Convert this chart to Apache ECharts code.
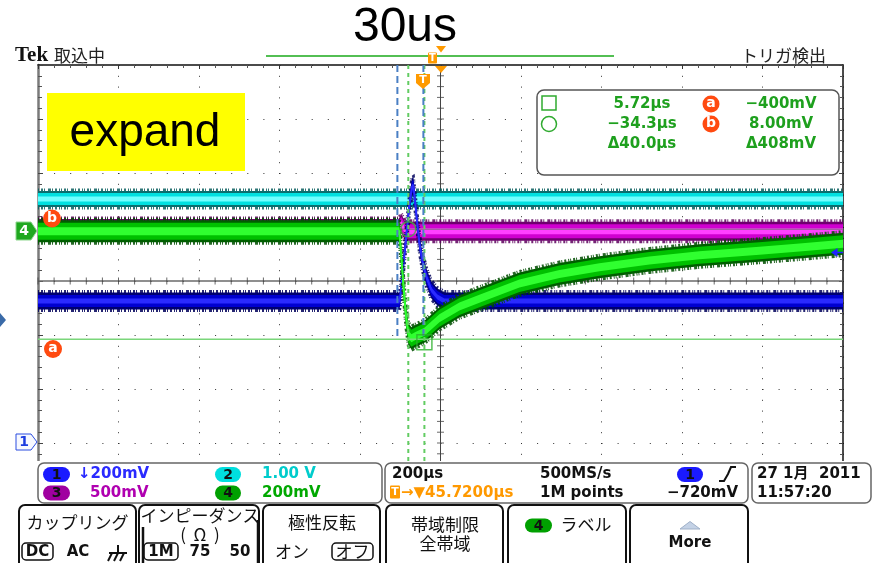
<!DOCTYPE html>
<html><head><meta charset="utf-8">
<script src="https://cdn.jsdelivr.net/npm/echarts@6/dist/echarts.min.js"></script>
<style>html,body{margin:0;padding:0;background:#fff;}#c{width:876px;height:563px;}</style>
</head><body><div id="c"></div>
<script>
// ---------------- data ----------------
const timePerDivUs = 200;            // 200µs/div
const triggerToCenterUs = 45.72;     // T→▼45.7200µs
const ch1ScaleV = 0.2, ch2ScaleV = 1.0, ch3ScaleV = 0.5, ch4ScaleV = 0.2;
const ch1PosDiv = -2.98, ch2PosDiv = 0.92, ch3PosDiv = 0.92, ch4PosDiv = 0.92;

// Ch4 (green) time relative to trigger (µs) and level (mV)
const ch4TimeUs = [-954.28, -56.4, -52.7, -46.5, -40.3, -34.0, -26.6, -16.6, 5.7, 43.0, 92.7, 142.4, 241.8, 341.2, 440.6, 564.8, 689.0, 838.1, 937.5, 1045.72];
const ch4mV     = [0, 0, -70, -199, -310, -381, -396, -388, -372, -322, -278, -250, -193, -158, -133, -108, -89, -72, -60, -46];
// Ch1 (blue)
const ch1TimeUs = [-954.28, -56.4, -53.9, -46.5, -39.0, -31.6, -25.3, -21.6, -16.6, -11.7, -6.7, 0.7, 10.7, 23.1, 38.0, 55.4, 1045.72];
const ch1mV     = [522, 522, 541, 656, 767, 878, 944, 948, 878, 804, 737, 670, 611, 563, 537, 522, 522];
// Ch2 (cyan)
const ch2TimeUs = [-954.28, 1045.72];
const ch2V      = [0.60, 0.60];
// Ch3 (magenta)
const ch3TimeUs = [-954.28, -58.9, -51.4, -41.5, 1045.72];
const ch3V      = [0.025, 0.025, 0.067, 0.0, 0.0];

// cursors
const cursorSquareUs = 5.72, cursorCircleUs = -34.3;
const cursorA_mV = -400, cursorB_mV = 8.0;
const zoomMarkUs = [-61.4, 3.2];

// ---------------- helpers ----------------
const xOf = t => t - triggerToCenterUs;
function toPts(tArr, vArr, posDiv, scale) { return tArr.map((t, i) => [xOf(t), posDiv + vArr[i] / scale]); }
const PX = 54; // px per division (layout)
const NOISE_DASH = [1, 2, 2, 1, 1, 3, 3, 1, 1, 2, 2, 2, 1, 1];
function traceSeries(p, layers, z, lineColor, edgeColor) {
  return {type:'custom', z, silent:true, clip:true, data:p,
    renderItem: (params, api) => {
      if (params.dataIndex !== 0) return null;
      const outer = layers[0][0];
      const children = [];
      [-1, 1].forEach(sgn => {
        const pts = p.map(q => { const c = api.coord(q); return [c[0], c[1] + sgn * (outer / 2 + 1)]; });
        children.push({type:'polyline', shape:{points:pts}, style:{stroke:edgeColor, lineWidth:3, fill:null, lineDash:NOISE_DASH, opacity:0.85}});
      });
      layers.forEach(l => {
        const th = l[0] / PX;
        const up = p.map(q => api.coord([q[0], q[1] + th / 2]));
        const lo = p.map(q => api.coord([q[0], q[1] - th / 2])).reverse();
        children.push({type:'polygon', shape:{points:up.concat(lo)}, style:{fill:l[1]}});
      });
      children.push({type:'polyline', shape:{points:p.map(q => api.coord(q))}, style:{stroke:lineColor, lineWidth:2, fill:null}});
      return {type:'group', children};
    }};
}

const ch1Pts = toPts(ch1TimeUs, ch1mV.map(v => v / 1000), ch1PosDiv, ch1ScaleV);
const ch2Pts = toPts(ch2TimeUs, ch2V, ch2PosDiv, ch2ScaleV);
const ch3Pts = toPts(ch3TimeUs, ch3V, ch3PosDiv, ch3ScaleV);
const ch4Pts = toPts(ch4TimeUs, ch4mV.map(v => v / 1000), ch4PosDiv, ch4ScaleV);

const yA = ch4PosDiv + cursorA_mV / 1000 / ch4ScaleV;
const yB = ch4PosDiv + cursorB_mV / 1000 / ch4ScaleV;

// graticule center ticks
const hTicks = [], vTicks = [];
for (let x = -1000; x <= 1000; x += timePerDivUs / 5) hTicks.push([x, 0]);
for (let k = -20; k <= 20; k++) vTicks.push([0, k / 5]);

let series = [];
series.push({type:'line', data:[[-1000, 0], [1000, 0]], symbol:'none', lineStyle:{color:'#6a6a6a', width:1.5}, z:3, silent:true});
series.push({type:'line', data:[[0, -4], [0, 4]], symbol:'none', lineStyle:{color:'#444', width:1}, z:3, silent:true});
series.push({type:'scatter', data:hTicks, symbol:'rect', symbolSize:[1, 7], itemStyle:{color:'#444'}, z:3, silent:true});
series.push({type:'scatter', data:vTicks, symbol:'rect', symbolSize:[7, 1], itemStyle:{color:'#444'}, z:3, silent:true});

series.push(traceSeries(ch2Pts, [[16, '#0b6e6e'], [12, '#00e0e0'], [5, '#70ffff']], 10, '#70ffff', '#0a5f5f'));
series.push(traceSeries(ch3Pts, [[19, '#6e006e'], [14, '#d000d0'], [6, '#ff40ff']], 20, '#ff40ff', '#5e005e'));
series.push({type:'line', data:[[-1000, yB], [1000, yB]], symbol:'none', lineStyle:{color:'#7a6a7a', width:1}, z:26, silent:true});
series.push(traceSeries(ch1Pts, [[17, '#000070'], [12, '#0000d0'], [5, '#2a2aff']], 30, '#2a2aff', '#00005a'));
series.push(traceSeries(ch4Pts, [[22, '#005e00'], [17, '#00c000'], [8, '#30ff30']], 40, '#30ff30', '#004c00'));

// cursors
series.push({type:'line', data:[[-1000, yA], [1000, yA]], symbol:'none', lineStyle:{color:'#7ad67a', width:1.5}, z:60, silent:true});
[cursorSquareUs, cursorCircleUs].forEach(t => series.push({type:'line', data:[[xOf(t), 4], [xOf(t), -4]], symbol:'none', lineStyle:{color:'#62cc62', width:2, type:[4, 4]}, z:61, silent:true}));
zoomMarkUs.forEach(t => series.push({type:'line', data:[[xOf(t), 4], [xOf(t), yA]], symbol:'none', lineStyle:{color:'#4a7fc4', width:2, type:[7, 4]}, z:62, silent:true}));
series.push({type:'scatter', data:[[xOf(cursorCircleUs), yB]], symbol:'circle', symbolSize:15, itemStyle:{color:'rgba(0,0,0,0)', borderColor:'#3cb83c', borderWidth:1.5}, z:63, silent:true});
series.push({type:'scatter', data:[[xOf(cursorSquareUs), yA]], symbol:'rect', symbolSize:15, symbolOffset:[0, 3], itemStyle:{color:'rgba(0,0,0,0)', borderColor:'#2cb02c', borderWidth:1.5}, z:63, silent:true});

// ---------------- static screen furniture ----------------
const UI = '"DejaVu Sans","Noto Sans CJK JP",sans-serif';
const CJK = '"Noto Sans CJK JP","DejaVu Sans",sans-serif';
const G = [];
function txt(text, x, y, font, fill, align, z) { G.push({type:'text', z:z || 110, style:{text, x, y, font, fill, align:align || 'left', verticalAlign:'middle'}}); }
function rect(x, y, w, h, r, fill, stroke, lw, z) { G.push({type:'rect', z:z || 105, shape:{x, y, width:w, height:h, r}, style:{fill:fill || 'none', stroke:stroke || 'none', lineWidth:lw || 1}}); }
function poly(points, fill, stroke, z) { G.push({type:'polygon', z:z || 105, shape:{points}, style:{fill, stroke:stroke || 'none', lineWidth:1}}); }
function line(x1, y1, x2, y2, stroke, lw, z) { G.push({type:'line', z:z || 105, shape:{x1, y1, x2, y2}, style:{stroke, lineWidth:lw || 1}}); }
function circ(cx, cy, r, fill, stroke, z) { G.push({type:'circle', z:z || 105, shape:{cx, cy, r}, style:{fill, stroke:stroke || 'none', lineWidth:1.5}}); }
function pill(x, y, w, h, fill, label) { rect(x, y, w, h, h / 2, fill, null, 1, 106); txt(label, x + w / 2, y + h / 2 + 0.5, 'bold 14px ' + UI, '#111', 'center', 107); }

// header
txt('30us', 405, 28, '48px "Liberation Sans",Arial,sans-serif', '#000', 'center', 90);
txt('Tek', 15, 56, 'bold 21px "Liberation Serif",serif', '#111', 'left', 90);
txt('取込中', 54, 56, '17px ' + CJK, '#222', 'left', 90);
txt('トリガ検出', 826, 56, '17px ' + CJK, '#222', 'right', 90);
line(266, 56, 614, 56, '#1aaa1a', 1.5, 90);
rect(428, 52.5, 9, 11, 1, '#ff9a00', null, 1, 91);
txt('T', 432.5, 58, 'bold 10px ' + UI, '#fff', 'center', 92);
poly([[436, 46], [446, 46], [441, 52.5]], '#ff9a00', null, 91);
poly([[435, 66], [447, 66], [441, 73]], '#ff9a00', null, 91);
poly([[416, 74], [430, 74], [430, 83], [423, 89], [416, 83]], '#ff9a00', null, 91);
txt('T', 423, 80, 'bold 11px ' + UI, '#fff', 'center', 92);

// expand label
rect(47, 93, 198, 78, 0, '#ffff00', null, 1, 80);
txt('expand', 145, 133, '46px "Liberation Sans",Arial,sans-serif', '#000', 'center', 81);

// measurement readout
rect(537, 90, 302, 85, 7, '#fff', '#555', 1.5, 80);
rect(542, 96, 14, 14, 0, 'none', '#2faa2f', 1.5, 81);
circ(549, 124, 7.5, 'none', '#2faa2f', 81);
const MF = 'bold 15px ' + UI, MC = '#1ea01e';
txt('5.72µs', 642, 104, MF, MC, 'center', 82);
txt('−34.3µs', 642, 124, MF, MC, 'center', 82);
txt('Δ40.0µs', 642, 144, MF, MC, 'center', 82);
txt('−400mV', 781, 104, MF, MC, 'center', 82);
txt('8.00mV', 781, 124, MF, MC, 'center', 82);
txt('Δ408mV', 781, 144, MF, MC, 'center', 82);
circ(711, 104, 8.5, '#ff4a10', null, 81); txt('a', 711, 103, 'bold 14px ' + UI, '#fff', 'center', 82);
circ(711, 124, 8.5, '#ff4a10', null, 81); txt('b', 711, 123, 'bold 14px ' + UI, '#fff', 'center', 82);

// channel / cursor markers on the graticule
poly([[16, 222], [31, 222], [37, 231], [31, 240], [16, 240]], '#1fa81f', '#8fd88f', 85);
txt('4', 24, 231.5, 'bold 14px ' + UI, '#fff', 'center', 86);
circ(52, 218.5, 9, '#ff4a10', null, 85); txt('b', 52, 218, 'bold 14px ' + UI, '#fff', 'center', 86);
circ(53, 349, 9, '#ff4a10', null, 85); txt('a', 53, 348, 'bold 14px ' + UI, '#fff', 'center', 86);
poly([[16, 434], [31, 434], [37, 442], [31, 450], [16, 450]], '#f6f8ff', '#2b4de0', 85);
txt('1', 24, 442.5, 'bold 14px ' + UI, '#1a3be0', 'center', 86);
poly([[0, 313], [6, 320], [0, 327]], '#3a6aa8', null, 85);
poly([[837.5, 248], [831, 252.5], [837.5, 257]], '#2222ff', null, 85);
line(837, 252.5, 843, 252.5, '#2222ff', 1.5, 85);

// bottom area
rect(0, 461, 876, 102, 0, '#fff', null, 1, 100);
rect(38, 463, 344, 40, 6, '#fff', '#666', 1.5);
rect(385, 463, 363, 40, 6, '#fff', '#666', 1.5);
rect(752, 463, 119, 40, 6, '#fff', '#666', 1.5);
const IF = 'bold 15px ' + UI;
pill(43, 467, 27, 15, '#1a1aff', '1'); txt('↓200mV', 78, 474.5, IF, '#2a2aff');
pill(215, 467, 26, 15, '#00dede', '2'); txt('1.00 V', 262, 474.5, IF, '#00cccc');
pill(43, 485.5, 27, 15, '#a000a0', '3'); txt('500mV', 90, 493, IF, '#b000b0');
pill(215, 485.5, 26, 15, '#00a000', '4'); txt('200mV', 262, 493, IF, '#00a800');

txt('200µs', 392, 474.5, IF, '#111');
txt('500MS/s', 540, 474.5, IF, '#111');
pill(677, 467, 26, 15, '#1a1aff', '1');
G.push({type:'polyline', z:107, shape:{points:[[719, 481], [724, 481], [728, 474], [731, 467], [736, 467]]}, style:{stroke:'#111', lineWidth:2, fill:'none'}});
rect(390, 485.5, 10, 13, 1, '#ff9a00', null, 1, 106); txt('T', 395, 492.5, 'bold 11px ' + UI, '#fff', 'center', 107);
txt('→▼45.7200µs', 401, 493, IF, '#ff9900');
txt('1M points', 540, 493, IF, '#111');
txt('−720mV', 738, 493, IF, '#111', 'right');
txt('27 1月  2011', 757, 474.5, IF, '#111');
txt('11:57:20', 757, 493, IF, '#111');

// soft keys
const BF = '17px ' + CJK, LF = 'bold 15px ' + UI;
[[19, 117], [139, 120], [263, 117], [386, 117], [508, 118], [630, 118]].forEach(b => rect(b[0], 505, b[1], 70, 6, '#fff', '#111', 2, 101));
txt('カップリング', 77.5, 523, BF, '#111', 'center');
rect(22, 543, 31, 17, 4, 'none', '#111', 1.5, 106); txt('DC', 37.5, 552, LF, '#111', 'center');
txt('AC', 78, 552, LF, '#111', 'center');
line(118, 545, 118, 553, '#111', 2); line(109, 553, 127, 553, '#111', 2);
line(112, 553, 108, 561, '#111', 2); line(118, 553, 114, 561, '#111', 2); line(124, 553, 120, 561, '#111', 2);
txt('インピーダンス', 200, 516, BF, '#111', 'center');
txt('(  Ω  )', 200, 535, BF, '#111', 'center');
line(143, 527, 143, 563, '#111', 2.5); line(258, 520, 258, 563, '#111', 2.5);
rect(144, 543, 34, 17, 4, 'none', '#111', 1.5, 106); txt('1M', 161, 552, LF, '#111', 'center');
txt('75', 200, 552, LF, '#111', 'center');
txt('50', 240, 552, LF, '#111', 'center');
txt('極性反転', 322, 523, BF, '#111', 'center');
txt('オン', 292, 552, BF, '#111', 'center');
rect(332, 543, 41, 17, 4, 'none', '#111', 1.5, 106); txt('オフ', 352.5, 552, BF, '#111', 'center');
txt('帯域制限', 445, 525, BF, '#111', 'center');
txt('全帯域', 445, 543.5, BF, '#111', 'center');
pill(525, 518.5, 27, 14, '#00a000', '4');
txt('ラベル', 586, 525, BF, '#111', 'center');
poly([[680, 529], [690, 521.5], [700, 529]], '#c4d2e6', '#9fb0c8', 106);
txt('More', 690, 543.5, 'bold 15px ' + UI, '#111', 'center');

const option = {
  animation: false,
  backgroundColor: '#fff',
  grid: {left: 38, top: 65, width: 805, height: 432},
  xAxis: [{type:'value', min:-1000, max:1000, interval:timePerDivUs, position:'top',
    axisLine:{show:true, onZero:false, lineStyle:{color:'#111', width:1.5}},
    axisTick:{show:true, inside:true, length:4, lineStyle:{color:'#333'}},
    minorTick:{show:true, splitNumber:5, length:3, lineStyle:{color:'#555'}},
    axisLabel:{show:false},
    splitLine:{show:true, lineStyle:{color:'#333', width:1, type:[1, 9.8]}}}],
  yAxis: [{type:'value', min:-4, max:4, interval:1, position:'left',
    axisLine:{show:true, onZero:false, lineStyle:{color:'#7a7a7a', width:2.5}},
    axisTick:{show:true, inside:true, length:5, lineStyle:{color:'#444'}},
    minorTick:{show:true, splitNumber:5, length:4, lineStyle:{color:'#555'}},
    axisLabel:{show:false},
    splitLine:{show:true, lineStyle:{color:'#333', width:1, type:[1, 15.1]}}},
   {type:'value', min:-4, max:4, interval:1, position:'right',
    axisLine:{show:true, onZero:false, lineStyle:{color:'#111', width:1.5}},
    axisTick:{show:true, inside:true, length:4, lineStyle:{color:'#444'}},
    minorTick:{show:true, splitNumber:5, length:3, lineStyle:{color:'#555'}},
    axisLabel:{show:false}, splitLine:{show:false}}],
  series: series,
  graphic: {elements: G}
};
const chart = echarts.init(document.getElementById('c'), null, {renderer:'canvas'});
chart.setOption(option);
</script></body></html>
